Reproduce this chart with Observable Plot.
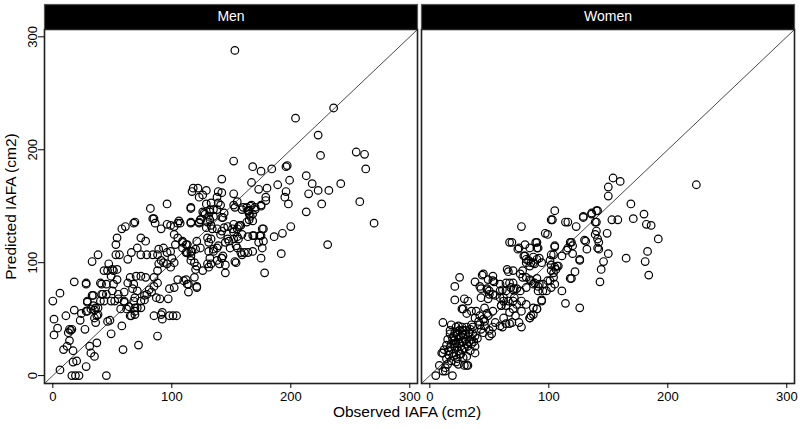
<!DOCTYPE html>
<html>
<head>
<meta charset="utf-8">
<script src="https://cdn.jsdelivr.net/npm/d3@7"></script>
<script src="https://cdn.jsdelivr.net/npm/@observablehq/plot@0.6"></script>
<style>
  html, body { margin: 0; padding: 0; background: #fff; }
  #chart { width: 800px; height: 429px; }
</style>
</head>
<body>
<div id="chart"></div>
<script>
// ---------- data ----------
const panels = ["Men", "Women"];
const xTicks = [0, 100, 200, 300];
const yTicks = [0, 100, 200, 300];
const axisDomain = [-7, 306.5];
const xTitle = "Observed IAFA (cm2)";
const yTitle = "Predicted IAFA (cm2)";

// Men: observed, predicted (cm2)
const menPoints = [
[153,288],[236,237],[204,228],[223,213],[225,195],[255,198],[262,196],[263,183],[152,190],[168,185],
[175,181],[184,183],[196,185],[197,186],[199,173],[213,177],[218,170],[242,170],[223,164],[232,164],
[215,161],[189,169],[180,166],[173,165],[167,171],[196,163],[195,158],[198,152],[226,152],[258,154],
[213,145],[179,158],[175,151],[167,151],[163,149],[164,146],[165,143],[142,174],[118,166],[117,163],
[122,166],[129,164],[139,163],[142,162],[152,161],[155,154],[152,151],[123,158],[126,160],[129,152],
[133,153],[138,158],[139,153],[141,151],[138,147],[127,144],[132,147],[96,152],[82,148],[116,148],
[84,139],[69,136],[143,140],[270,135],
[231,116],[192,108],[200,132],[193,126],[186,123],[178,91],[175,104],[177,119],[174,124],[177,130],
[168,137],[166,141],[164,123],[169,124],[164,109],[159,107],[154,100],[154,115],[156,121],[152,127],
[156,132],[152,134],[157,133],[153,149],[159,147],[165,146],[170,149],[144,131],[147,121],[141,125],
[139,115],[145,91],[143,106],[142,104],[140,99],[135,110],[132,104],[133,99],[131,96],[126,93],
[130,122],[133,121],[134,130],[132,138],[128,143],[124,138],[123,135],[116,135],[121,79],[114,74],
[114,81],[112,85],[119,87],[120,94],[119,100],[116,106],[117,110],[113,109],[112,116],[109,118],
[103,116],[107,135],[102,132],[96,134],[91,130],[86,135],[85,139],[78,119],[74,122],[68,135],
[61,132],[58,130],[53,116],[54,122],[56,107],[63,103],[66,109],[71,113],[74,107],[79,107],
[84,107],[88,107],[89,112],[93,113],[96,109],[99,110],[100,104],[102,100],[99,96],[96,99],
[93,100],[91,102],[89,99],[88,93],[85,87],[85,79],[88,82],[81,76],[79,72],[77,67],
[74,60],[69,60],[69,54],[68,66],[71,75],[68,81],[70,88],[74,88],[78,87],[65,87],
[63,82],[60,74],[60,65],[64,61],[65,53],[58,44],[59,23],[72,27],[54,85],[51,81],
[54,94],[51,93],[47,99],[46,93],[43,93],[40,82],[41,72],[33,71],[40,66],[36,60],
[32,59],[37,53],[29,66],[28,57],[23,49],[28,82],[33,101],[38,107],[46,48],[49,37],
[45,0],[16,0],[19,0],[22,0],[6,5],[17,12],[20,13],[28,8],[32,20],[35,17],
[37,29],[31,26],[27,41],[14,41],[16,41],[13,38],[14,31],[12,26],[17,22],[9,23],
[4,42],[1,36],[1,50],[0,66],[6,73],[11,53],[18,58],[24,55],[18,83],[28,81],
[116,149],[135,147],[132,145],[126,145],[131,141],[135,141],[142,140],[144,144],[160,149],[166,150],
[164,146],[170,147],[168,143],[165,138],[163,136],[175,150],[179,155],[106,137],[116,136],[123,136],
[124,138],[130,136],[129,131],[133,133],[138,130],[142,128],[147,132],[151,130],[155,130],[158,133],
[159,125],[155,123],[152,121],[148,119],[145,118],[149,113],[155,113],[158,109],[161,109],[168,110],
[168,124],[175,124],[176,130],[173,118],[176,113],[99,133],[105,135],[102,125],[105,122],[109,119],
[113,116],[109,113],[121,119],[120,112],[124,113],[116,110],[112,109],[131,118],[135,112],[131,110],
[138,113],
[53,107],[50,94],[15,40],[29,57],[29,65],[34,62],[35,58],[38,54],[38,60],[34,71],
[42,72],[45,72],[43,66],[49,66],[48,49],[88,35],[36,47],[35,51],[52,66],[55,68],
[60,66],[57,59],[62,59],[66,53],[69,57],[71,60],[74,66],[77,71],[83,74],[87,69],
[90,68],[91,54],[85,53],[97,68],[98,77],[101,53],[92,50],[69,69],[67,77],[55,72],
[50,75],[45,81],[41,81],[49,88],[92,56],[98,53],[104,53],
[116,102],[121,97],[113,81],[121,78],[110,84],[105,85],[102,78],[130,99],[138,102],[153,101],[142,104],[145,98]
];

// Women: observed, predicted (cm2)
const womenPoints = [
[224,169],[154,175],[160,172],[150,167],[150,159],[169,152],[105,146],[129,140],[136,144],[141,146],
[180,143],[171,139],[182,134],[186,133],[192,121],[183,110],[181,101],[184,89],[165,104],[153,138],
[158,138],[140,136],[139,125],[149,126],[141,121],[142,118],[141,113],[142,112],[150,108],[146,101],
[144,94],[143,83],[130,120],[132,112],[126,102],[122,92],[119,86],[111,75],[114,64],[126,60],
[123,132],[114,136],[116,136],[103,138],[97,126],[99,125],[105,115],[102,107],[119,118],[120,115],
[115,111],[120,108],[107,97],[106,94],[102,93],[104,87],[101,84],[98,75],[95,75],[91,75],
[94,67],[90,59],[85,53],[84,51],[87,54],[77,132],[69,118],[67,118],[74,112],[75,113],
[80,116],[89,118],[90,113],[79,106],[81,103],[81,100],[85,100],[88,99],[90,103],[92,104],
[65,94],[66,92],[70,93],[76,90],[78,87],[84,85],[85,84],[88,82],[92,81],[67,82],
[68,78],[70,76],[73,77],[61,76],[64,75],[59,69],[62,66],[66,66],[71,69],[60,62],
[64,62],[70,59],[67,56],[72,53],[77,57],[61,43],[67,46],[75,47],[84,51],[44,89],
[53,88],[53,84],[54,83],[38,83],[43,77],[48,76],[50,72],[55,71],[25,87],[21,79],
[21,67],[29,68],[32,66],[27,59],[28,59],[31,55],[35,57],[39,57],[42,53],[38,51],
[41,48],[42,45],[36,43],[43,41],[45,38],[46,48],[50,40],[50,35],[52,37],[46,60],
[48,55],[11,47],[18,45],[22,43],[27,43],[17,37],[21,38],[28,40],[31,43],[34,41],
[38,35],[35,32],[15,32],[20,31],[24,32],[25,28],[21,25],[17,25],[27,23],[10,20],
[11,20],[20,20],[25,19],[31,17],[28,16],[38,20],[14,15],[18,13],[22,12],[13,7],
[8,9],[29,9],[31,9],[32,9],[11,4],[13,4],[5,0],[19,0],[15,10],[24,10],
[102,138],[129,141],[136,143],[140,146],[139,136],[140,128],[84,113],[90,118],[91,113],[105,114],
[104,107],[116,113],[118,118],[111,106],[126,103],[131,119],[80,106],[83,102],[87,105],[94,100],
[87,100],[84,97],[101,102],[102,98],[105,96],[104,91],[108,97],[118,86],[78,93],[81,87],
[90,86],[87,81],[91,79],[95,81],[99,84],[102,78],[105,81],[45,90],[49,85],[59,81],
[64,82],[70,82],[71,77],[76,75],[81,78],
[48,77],[50,75],[42,79],[43,69],[49,68],[53,72],[59,75],[62,69],[70,66],[73,63],
[77,66],[81,63],[87,60],[90,59],[94,66],[60,62],[62,51],[53,57],[49,53],[45,50],
[55,47],[59,44],[64,46],[69,47],[77,43],[53,43],[46,44],
[20,35],[23,36],[26,35],[30,37],[33,38],[25,40],[22,29],[27,30],[30,32],[33,30],
[18,28],[16,22],[24,22],[29,24],[32,26],[35,28],[37,30],[40,33],[26,26],[20,17],
[34,22],[23,15],
[14,27],[19,33],[23,39],[28,36],[31,28],[36,37],[12,23],[26,19],[30,40],[17,40],
[24,44],[35,45],[28,30],[21,28],[38,26],[16,18]
];

const points = [
  ...menPoints.map(([o, p]) => ({panel: panels[0], observed: o, predicted: p})),
  ...womenPoints.map(([o, p]) => ({panel: panels[1], observed: o, predicted: p}))
];

// ---------- layout ----------
const W = 800, H = 429;
const mTop = 29, mBottom = 46, mLeft = 44, mRight = 5;
const frameH = H - mTop - mBottom;
const headerH = 25;
const font = "'Liberation Sans', Arial, Helvetica, sans-serif";

const chart = Plot.plot({
  width: W,
  height: H,
  marginTop: mTop,
  marginBottom: mBottom,
  marginLeft: mLeft,
  marginRight: mRight,
  style: {fontFamily: font, background: "white", color: "black", overflow: "visible"},
  fx: {domain: panels, padding: 0.0106, axis: null},
  x: {domain: axisDomain},
  y: {domain: axisDomain},
  marks: [
    // header bar
    Plot.frame({fill: "black", insetTop: -headerH, insetBottom: frameH}),
    Plot.text(panels, {fx: d => d, text: d => d, frameAnchor: "top", dy: -12.5,
      fill: "white", fontSize: 14, lineAnchor: "middle"}),
    // identity line
    Plot.line(axisDomain, {x: d => d, y: d => d, stroke: "#333", strokeWidth: 0.9, clip: true}),
    // points
    Plot.dot(points, {fx: "panel", x: "observed", y: "predicted", r: 3.8,
      stroke: "black", strokeWidth: 1.2, fill: "none"}),
    // frames
    Plot.frame({stroke: "#555", strokeWidth: 1.2, insetTop: -headerH}),
    Plot.frame({stroke: "#222", strokeWidth: 1.5}),
    // axes
    Plot.axisX({ticks: xTicks, tickSize: 5, tickPadding: 3, fontSize: 13, label: null}),
    Plot.axisY({ticks: yTicks, tickSize: 6, tickPadding: 2, tickRotate: -90, fontSize: 13, label: null}),
    // axis titles
    Plot.text([{panel: panels[0], t: xTitle}], {fx: "panel", text: "t", frameAnchor: "bottom-right",
      dx: -10.5, dy: 33, textAnchor: "middle", lineAnchor: "bottom", fontSize: 15.5}),
    Plot.text([{panel: panels[0], t: yTitle}], {fx: "panel", text: "t", frameAnchor: "left",
      dx: -29, rotate: -90, textAnchor: "middle", lineAnchor: "bottom", fontSize: 15.5})
  ]
});
document.getElementById("chart").appendChild(chart);
</script>
</body>
</html>
